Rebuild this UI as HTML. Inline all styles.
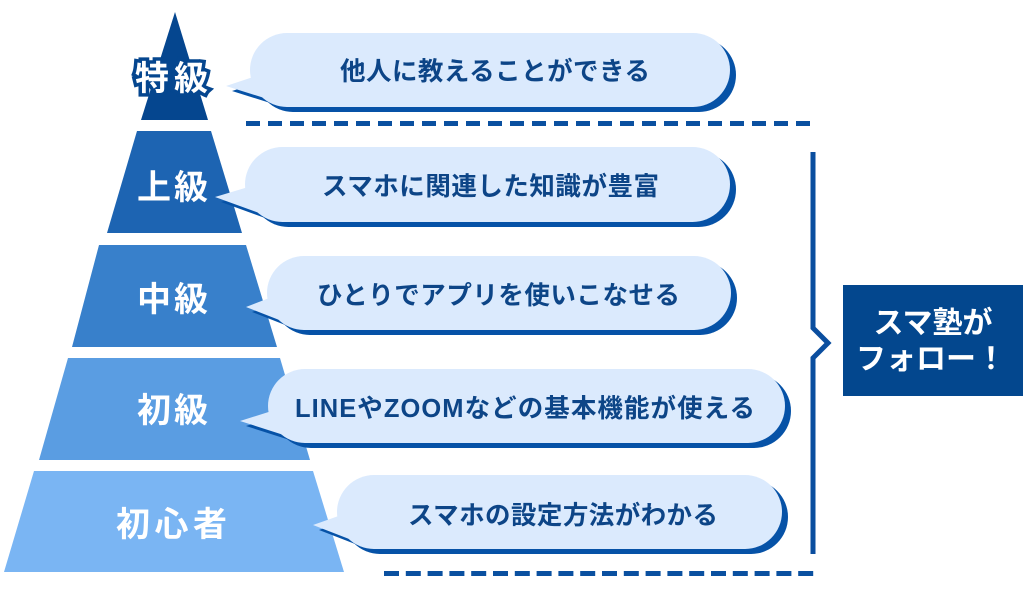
<!DOCTYPE html>
<html>
<head>
<meta charset="utf-8">
<style>
  html,body{margin:0;padding:0;background:#ffffff;}
  svg{display:block;}
  text{font-family:"Liberation Sans","Noto Sans CJK JP",sans-serif;font-weight:bold;}
</style>
</head>
<body>
<svg width="1024" height="603" viewBox="0 0 1024 603" xmlns="http://www.w3.org/2000/svg">
  <rect width="1024" height="603" fill="#ffffff"/>

  <!-- Pyramid -->
  <polygon points="175,12 208,120 141,120" fill="#05468f"/>
  <polygon points="137,131 211,131 242,233 107,233" fill="#1d64b2"/>
  <polygon points="99,245 246,245 277,347 72,347" fill="#3880cb"/>
  <polygon points="68,358 280,358 310,460 39,460" fill="#5a9de2"/>
  <polygon points="34,471 313,471 344,572 4,572" fill="#7ab5f3"/>

  <!-- Bubbles: shadows -->
  <g fill="#0652a7" transform="translate(6,5)">
    <path d="M287,33 H693 A37,37 0 0 1 693,107 H287 A37,37 0 0 1 287,33 Z"/>
    <polygon points="226,86 262,74 277,102"/>
    <path d="M282.5,147 H692.5 A37.5,37.5 0 0 1 692.5,222 H282.5 A37.5,37.5 0 0 1 282.5,147 Z"/>
    <polygon points="215,197 255,185 270,217"/>
    <path d="M304,256 H694 A37,37 0 0 1 694,330 H304 A37,37 0 0 1 304,256 Z"/>
    <polygon points="246,307 277,295 292,325"/>
    <path d="M305,369 H748 A37,37 0 0 1 748,443 H305 A37,37 0 0 1 305,369 Z"/>
    <polygon points="240,421 278,409 293,438"/>
    <path d="M374,475 H745 A37,37 0 0 1 745,549 H374 A37,37 0 0 1 374,475 Z"/>
    <polygon points="313,525 347,513 362,544"/>
  </g>
  <!-- Bubbles: fills -->
  <g fill="#dbeafd">
    <path d="M287,33 H693 A37,37 0 0 1 693,107 H287 A37,37 0 0 1 287,33 Z"/>
    <polygon points="226,86 262,74 277,102"/>
    <path d="M282.5,147 H692.5 A37.5,37.5 0 0 1 692.5,222 H282.5 A37.5,37.5 0 0 1 282.5,147 Z"/>
    <polygon points="215,197 255,185 270,217"/>
    <path d="M304,256 H694 A37,37 0 0 1 694,330 H304 A37,37 0 0 1 304,256 Z"/>
    <polygon points="246,307 277,295 292,325"/>
    <path d="M305,369 H748 A37,37 0 0 1 748,443 H305 A37,37 0 0 1 305,369 Z"/>
    <polygon points="240,421 278,409 293,438"/>
    <path d="M374,475 H745 A37,37 0 0 1 745,549 H374 A37,37 0 0 1 374,475 Z"/>
    <polygon points="313,525 347,513 362,544"/>
  </g>

  <!-- Bubble texts -->
  <g fill="#0d4587" font-size="25.5">
    <text x="340" y="80" textLength="310" lengthAdjust="spacing">他人に教えることができる</text>
    <text x="322" y="195" textLength="337" lengthAdjust="spacing">スマホに関連した知識が豊富</text>
    <text x="317" y="304" textLength="363" lengthAdjust="spacing">ひとりでアプリを使いこなせる</text>
    <text x="295" y="417" textLength="460" lengthAdjust="spacing">LINEやZOOMなどの基本機能が使える</text>
    <text x="408" y="524" textLength="310" lengthAdjust="spacing">スマホの設定方法がわかる</text>
  </g>

  <!-- Pyramid labels -->
  <text x="135" y="90" font-size="34" fill="#ffffff" stroke="#05468f" stroke-width="7" stroke-linejoin="miter" paint-order="stroke" textLength="73" lengthAdjust="spacing">特級</text>
  <g fill="#ffffff" font-size="34">
    <text x="137" y="199" textLength="71" lengthAdjust="spacing">上級</text>
    <text x="137" y="311" textLength="71" lengthAdjust="spacing">中級</text>
    <text x="137" y="422" textLength="71" lengthAdjust="spacing">初級</text>
    <text x="116" y="536" textLength="111" lengthAdjust="spacing">初心者</text>
  </g>

  <!-- Dashed lines -->
  <line x1="246" y1="123.5" x2="810" y2="123.5" stroke="#0a50a0" stroke-width="5" stroke-dasharray="14 8"/>
  <line x1="384" y1="573.5" x2="814" y2="573.5" stroke="#0a50a0" stroke-width="5" stroke-dasharray="15 6.8"/>

  <!-- Bracket -->
  <polyline points="813,152 813,328 828,343 813,358 813,554" fill="none" stroke="#0a4e9f" stroke-width="5" stroke-linejoin="miter"/>

  <!-- Box -->
  <rect x="843" y="285" width="180" height="111" fill="#03478e"/>
  <g fill="#ffffff" font-size="30" text-anchor="middle">
    <text x="933" y="333">スマ塾が</text>
    <text x="931" y="369">フォロー！</text>
  </g>
</svg>
</body>
</html>
